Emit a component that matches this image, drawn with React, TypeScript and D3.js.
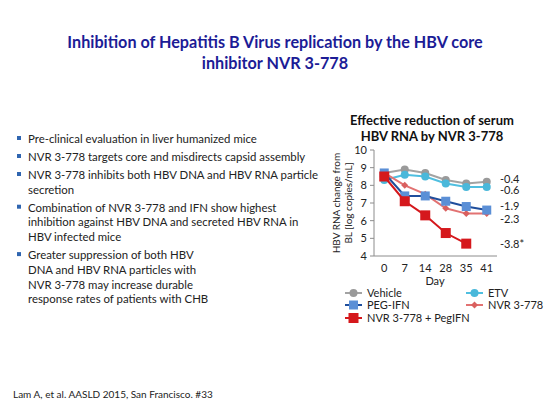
import React from "react";
import * as d3 from "d3";

const days = ["0", "7", "14", "28", "35", "41"];
const vehicle = [8.7, 8.9, 8.7, 8.3, 8.1, 8.2];
const etv = [8.3, 8.6, 8.5, 8.1, 7.9, 7.9];
const pegIfn = [8.7, 7.4, 7.4, 7.1, 6.8, 6.6];
const nvr = [8.7, 8.0, 7.5, 6.7, 6.4, 6.4];
const combo = [8.5, 7.1, 6.3, 5.3, 4.7, null];
const yTicks = [4, 5, 6, 7, 8, 9, 10];
const endLabels = ["-0.4", "-0.6", "-1.9", "-2.3", "-3.8*"];
const endLabelValues = [8.36, 7.71, 6.83, 6.09, 4.68];

const bullets = [
  ["Pre-clinical evaluation in liver humanized mice"],
  ["NVR 3-778 targets core and misdirects capsid assembly"],
  ["NVR 3-778 inhibits both HBV DNA and HBV RNA particle", "secretion"],
  ["Combination of NVR 3-778 and IFN show highest", "inhibition against HBV DNA and secreted HBV RNA in", "HBV infected mice"],
  ["Greater suppression of both HBV", "DNA and HBV RNA particles with", "NVR 3-778 may increase durable", "response rates of patients with CHB"],
];

type Series = { name: string; values: (number | null)[]; line: string; marker: string; shape: string };
const series: Series[] = [
  { name: "Vehicle", values: vehicle, line: "#a3a3a3", marker: "#9a9a9a", shape: "circle" },
  { name: "ETV", values: etv, line: "#4fbfe0", marker: "#4ab8da", shape: "circle" },
  { name: "NVR 3-778", values: nvr, line: "#e27272", marker: "#d9605f", shape: "diamond" },
  { name: "PEG-IFN", values: pegIfn, line: "#1f4e9c", marker: "#5b8fd6", shape: "square" },
  { name: "NVR 3-778 + PegIFN", values: combo, line: "#d5181c", marker: "#d5181c", shape: "square" },
];

const FONT = "Lato, 'Open Sans', sans-serif";

function Marker({ x, y, s }: { x: number; y: number; s: Series }) {
  if (s.shape === "circle") return <circle cx={x} cy={y} r={4} fill={s.marker} />;
  if (s.shape === "square") {
    const h = s.name === "PEG-IFN" ? 4.5 : 5;
    return <rect x={x - h} y={y - h} width={h * 2} height={h * 2} fill={s.marker} />;
  }
  return <path d={`M${x},${y - 3.5}L${x + 3.5},${y}L${x},${y + 3.5}L${x - 3.5},${y}Z`} fill={s.marker} />;
}

export default function App() {
  const x = d3.scaleBand<string>().domain(days).range([374, 497]);
  const y = d3.scaleLinear().domain([4, 10]).range([256, 150]);
  const cx = (d: string) => (x(d) ?? 0) + x.bandwidth() / 2;
  const line = d3
    .line<number | null>()
    .defined((v) => v !== null)
    .x((_, i) => cx(days[i]))
    .y((v) => y(v as number));

  const legend = [
    { s: series[0], lx: 345, ly: 293 },
    { s: series[1], lx: 466, ly: 293 },
    { s: series[3], lx: 345, ly: 305 },
    { s: series[2], lx: 466, ly: 305 },
    { s: series[4], lx: 345, ly: 318 },
  ];

  let by = 143;
  const bulletEls: React.ReactNode[] = [];
  bullets.forEach((b, bi) => {
    if (bi > 0) by += 18;
    bulletEls.push(<rect key={`b${bi}`} x={17} y={by - 7} width={4} height={4} fill="#2f65b0" />);
    b.forEach((t, li) => {
      if (li > 0) by += 14.7;
      bulletEls.push(
        <text key={`t${bi}-${li}`} x={28} y={by} fontSize={11.4} fill="#222">
          {t}
        </text>
      );
    });
  });

  return (
    <svg width={550} height={413} style={{ position: "absolute", left: 0, top: 0, background: "#fff" }} fontFamily={FONT}>
      <text x={275} y={48} textAnchor="middle" fontSize={16.2} fontWeight="bold" fill="#1c1c96">
        Inhibition of Hepatitis B Virus replication by the HBV core
      </text>
      <text x={275} y={69} textAnchor="middle" fontSize={16.2} fontWeight="bold" fill="#1c1c96">
        inhibitor NVR 3-778
      </text>

      {bulletEls}

      <text x={13} y={398} fontSize={10} fill="#222">
        Lam A, et al. AASLD 2015, San Francisco. #33
      </text>

      <text x={432} y={125} textAnchor="middle" fontSize={13} fontWeight="bold" fill="#111">
        Effective reduction of serum
      </text>
      <text x={432} y={141} textAnchor="middle" fontSize={13} fontWeight="bold" fill="#111">
        HBV RNA by NVR 3-778
      </text>

      <g transform="translate(340,203) rotate(-90)">
        <text x={0} y={0} textAnchor="middle" fontSize={10} fill="#222">
          HBV RNA change from
        </text>
        <text x={0} y={12} textAnchor="middle" fontSize={10} fill="#222">
          BL [log copies/mL]
        </text>
      </g>

      <line x1={374} x2={374} y1={y(10)} y2={y(4)} stroke="#8c8c8c" />
      <line x1={374} x2={497} y1={y(4)} y2={y(4)} stroke="#8c8c8c" />
      {yTicks.map((t) => (
        <g key={t}>
          <line x1={370} x2={374} y1={y(t)} y2={y(t)} stroke="#8c8c8c" />
          <text x={367} y={y(t) + 4} textAnchor="end" fontSize={11} fill="#222">
            {t}
          </text>
        </g>
      ))}
      {days.map((d) => (
        <text key={d} x={cx(d)} y={272} textAnchor="middle" fontSize={11} fill="#222">
          {d}
        </text>
      ))}
      <text x={435} y={285} textAnchor="middle" fontSize={11} fill="#222">
        Day
      </text>

      {series.map((s) => (
        <g key={s.name}>
          <path d={line(s.values) ?? ""} fill="none" stroke={s.line} strokeWidth={2} />
          {s.values.map((v, i) => (v === null ? null : <Marker key={i} x={cx(days[i])} y={y(v)} s={s} />))}
        </g>
      ))}

      {endLabels.map((l, i) => (
        <text key={l} x={500} y={y(endLabelValues[i]) + 4} fontSize={11} fill="#222">
          {l}
        </text>
      ))}

      {legend.map(({ s, lx, ly }) => (
        <g key={s.name}>
          <line x1={lx} x2={lx + 17} y1={ly} y2={ly} stroke={s.line} strokeWidth={2} />
          <Marker x={lx + 8.5} y={ly} s={s} />
          <text x={lx + 22} y={ly + 4} fontSize={11} fill="#222">
            {s.name}
          </text>
        </g>
      ))}
    </svg>
  );
}
